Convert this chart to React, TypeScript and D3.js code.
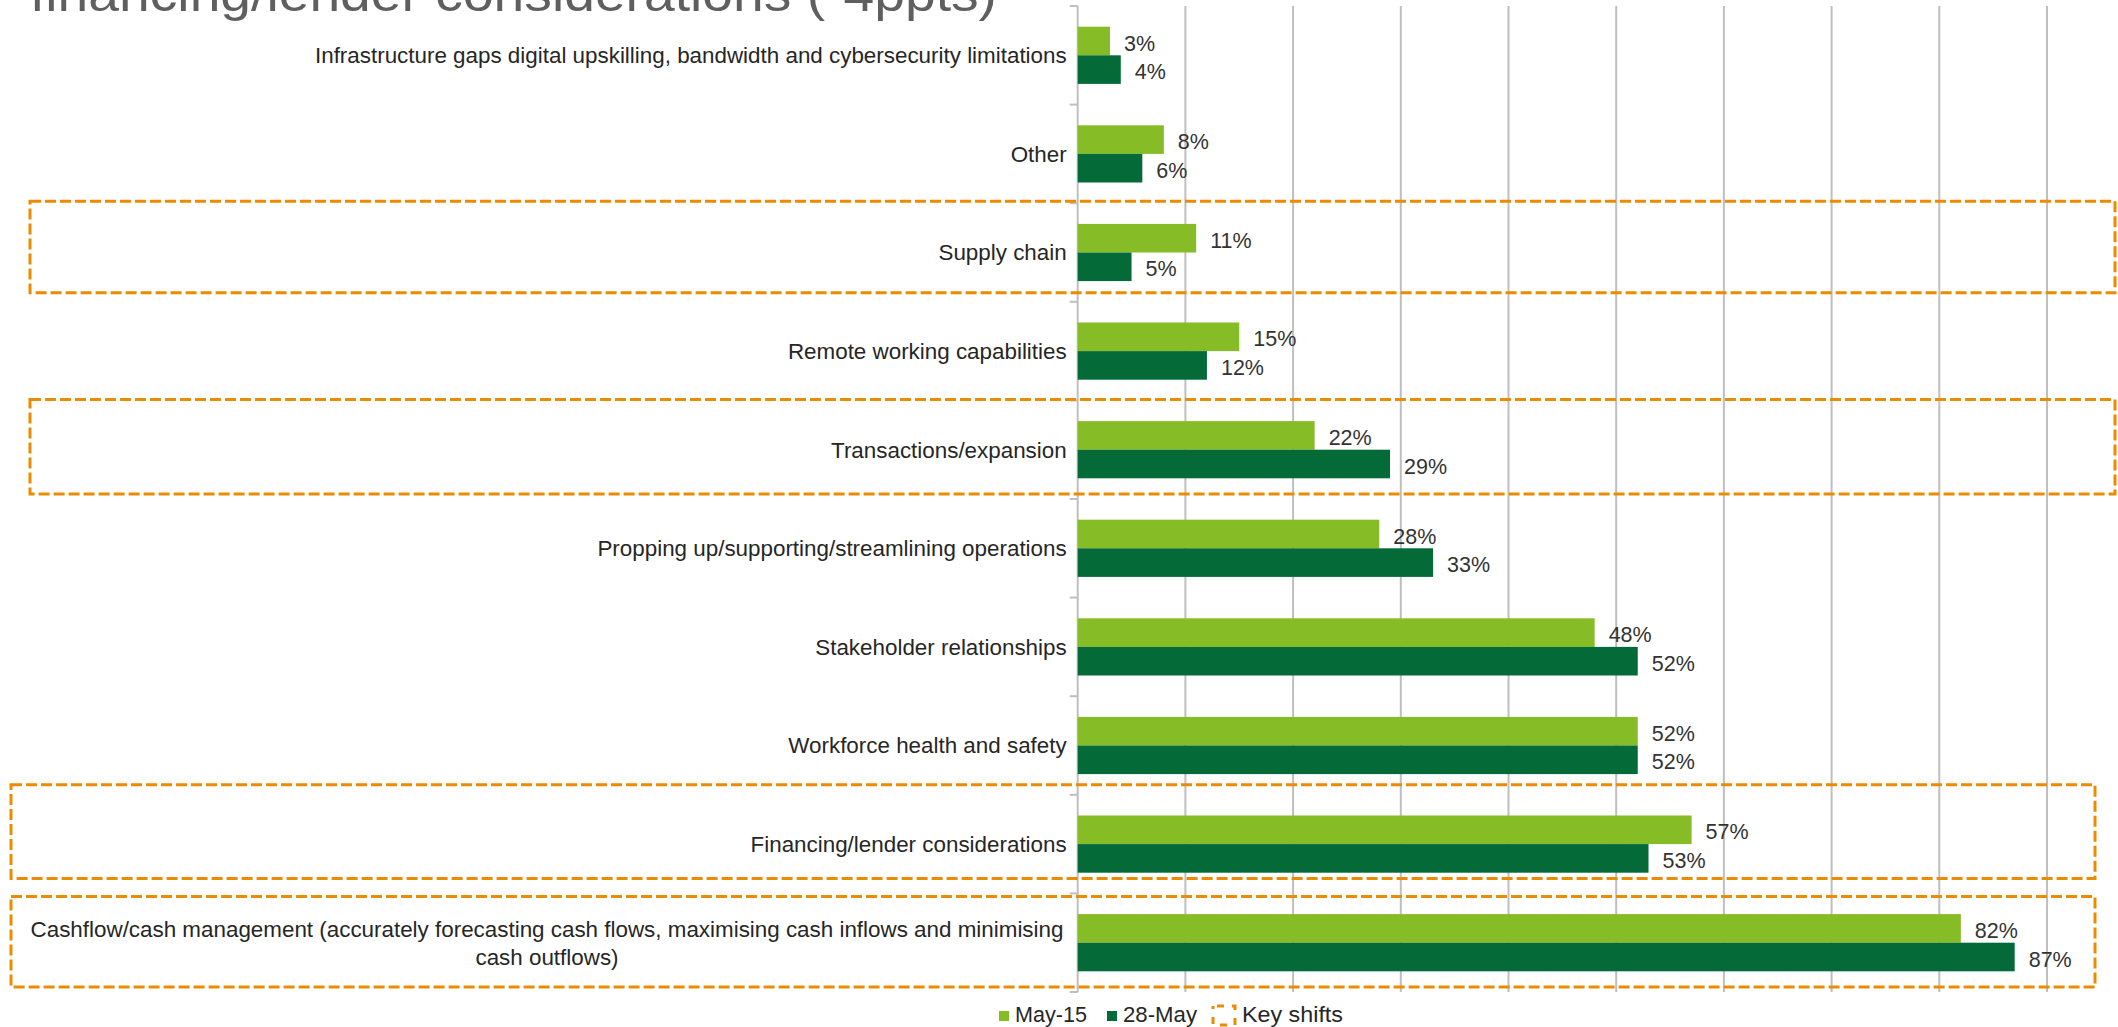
import React from "react";
import * as d3 from "d3";

const categories = [
  "Infrastructure gaps digital upskilling, bandwidth and cybersecurity limitations",
  "Other",
  "Supply chain",
  "Remote working capabilities",
  "Transactions/expansion",
  "Propping up/supporting/streamlining operations",
  "Stakeholder relationships",
  "Workforce health and safety",
  "Financing/lender considerations",
  "Cashflow/cash management (accurately forecasting cash flows, maximising cash inflows and minimising\ncash outflows)",
];
const may15 = [3, 8, 11, 15, 22, 28, 48, 52, 57, 82];
const may28 = [4, 6, 5, 12, 29, 33, 52, 52, 53, 87];
const seriesNames = ["May-15", "28-May"];
const keyShiftLabel = "Key shifts";
const keyShiftIndex = [2, 4, 8, 9];
const titleText = "financing/lender considerations (-4ppts)";
const xTicks = [0, 10, 20, 30, 40, 50, 60, 70, 80, 90];

const W = 2118;
const H = 1027;
const LIGHT = "#86BC25";
const DARK = "#046A38";
const ORANGE = "#ED8B00";
const GRID = "#BFBFBF";

// annotation box styling: [x0, x1, topOffset, bottomOffset]
const boxStyles = [
  [30, 2115, -2, -9],
  [30, 2115, -1, -5],
  [11, 2095, -10, -15],
  [11, 2095, 3, -5],
];

export default function App() {
  const x = d3.scaleLinear().domain([0, 90]).range([1077.7, 1077.7 + 90 * 10.77]);
  const y = d3
    .scaleBand<number>()
    .domain(d3.range(categories.length))
    .range([6, 992])
    .paddingInner(0.42)
    .paddingOuter(0.21);
  const sub = d3.scaleBand<number>().domain([0, 1]).range([0, y.bandwidth()]);
  const step = y.step();
  const bandStart = (i: number) => y(i)! - (step - y.bandwidth()) / 2;
  const series = [may15, may28];
  const colors = [LIGHT, DARK];
  const fs = 22.4;

  return (
    <div style={{ position: "fixed", left: 0, top: 0 }}>
      <svg width={W} height={H} style={{ display: "block", fontFamily: "'Liberation Sans', Arial, sans-serif" }}>
        <rect width={W} height={H} fill="#fff" />
        <text x={30} y={11} fontSize={50} fill="#5F5F5F" textLength={967} lengthAdjust="spacingAndGlyphs">
          {titleText}
        </text>
        {/* gridlines */}
        {xTicks.map((t) => (
          <line key={t} x1={x(t)} x2={x(t)} y1={6} y2={992} stroke={GRID} strokeWidth={2} />
        ))}
        {/* axis category ticks */}
        {d3.range(categories.length + 1).map((i) => {
          const yy = 6 + i * step;
          return <line key={i} x1={x(0) - 8} x2={x(0)} y1={yy} y2={yy} stroke={GRID} strokeWidth={2} />;
        })}
        {/* bars */}
        {series.map((vals, s) =>
          vals.map((v, i) => (
            <rect
              key={s + "-" + i}
              x={x(0)}
              y={y(i)! + sub(s)!}
              width={x(v) - x(0)}
              height={sub.bandwidth()}
              fill={colors[s]}
            />
          ))
        )}
        {/* data labels */}
        {series.map((vals, s) =>
          vals.map((v, i) => (
            <text
              key={"l" + s + "-" + i}
              x={x(v) + 14}
              y={y(i)! + sub(s)! + sub.bandwidth() / 2 + 2}
              dy="0.35em"
              fontSize={21.5}
              fill="#333"
            >
              {v + "%"}
            </text>
          ))
        )}
        {/* category labels */}
        {categories.map((c, i) => {
          const lines = c.split("\n");
          const cy = y(i)! + y.bandwidth() / 2;
          const lh = 28;
          if (lines.length === 1) {
            return (
              <text key={"c" + i} x={x(0) - 11} y={cy} dy="0.35em" fontSize={fs} fill="#262626" textAnchor="end">
                {c}
              </text>
            );
          }
          return (
            <text key={"c" + i} fontSize={fs} fill="#262626" textAnchor="middle">
              {lines.map((ln, k) => (
                <tspan key={k} x={547} y={cy + (k - (lines.length - 1) / 2) * lh} dy="0.35em">
                  {ln}
                </tspan>
              ))}
            </text>
          );
        })}
        {/* key shift boxes */}
        {keyShiftIndex.map((ci, k) => {
          const [x0, x1, dt, db] = boxStyles[k];
          const top = bandStart(ci) + dt;
          const bot = bandStart(ci) + step + db;
          return (
            <rect
              key={"b" + k}
              x={x0}
              y={top}
              width={x1 - x0}
              height={bot - top}
              fill="none"
              stroke={ORANGE}
              strokeWidth={3}
              strokeDasharray="11 4"
            />
          );
        })}
        {/* legend */}
        <g fontSize={22} fill="#262626">
          <rect x={999} y={1011} width={10} height={10} fill={LIGHT} />
          <text x={1015} y={1022} textLength={72} lengthAdjust="spacingAndGlyphs">{seriesNames[0]}</text>
          <rect x={1107} y={1011} width={10} height={10} fill={DARK} />
          <text x={1123} y={1022} textLength={74} lengthAdjust="spacingAndGlyphs">{seriesNames[1]}</text>
          <rect x={1213} y={1006} width={22} height={19} fill="none" stroke={ORANGE} strokeWidth={3} strokeDasharray="7 8" strokeDashoffset={-4} />
          <text x={1242} y={1022} textLength={101} lengthAdjust="spacingAndGlyphs">{keyShiftLabel}</text>
        </g>
      </svg>
    </div>
  );
}
